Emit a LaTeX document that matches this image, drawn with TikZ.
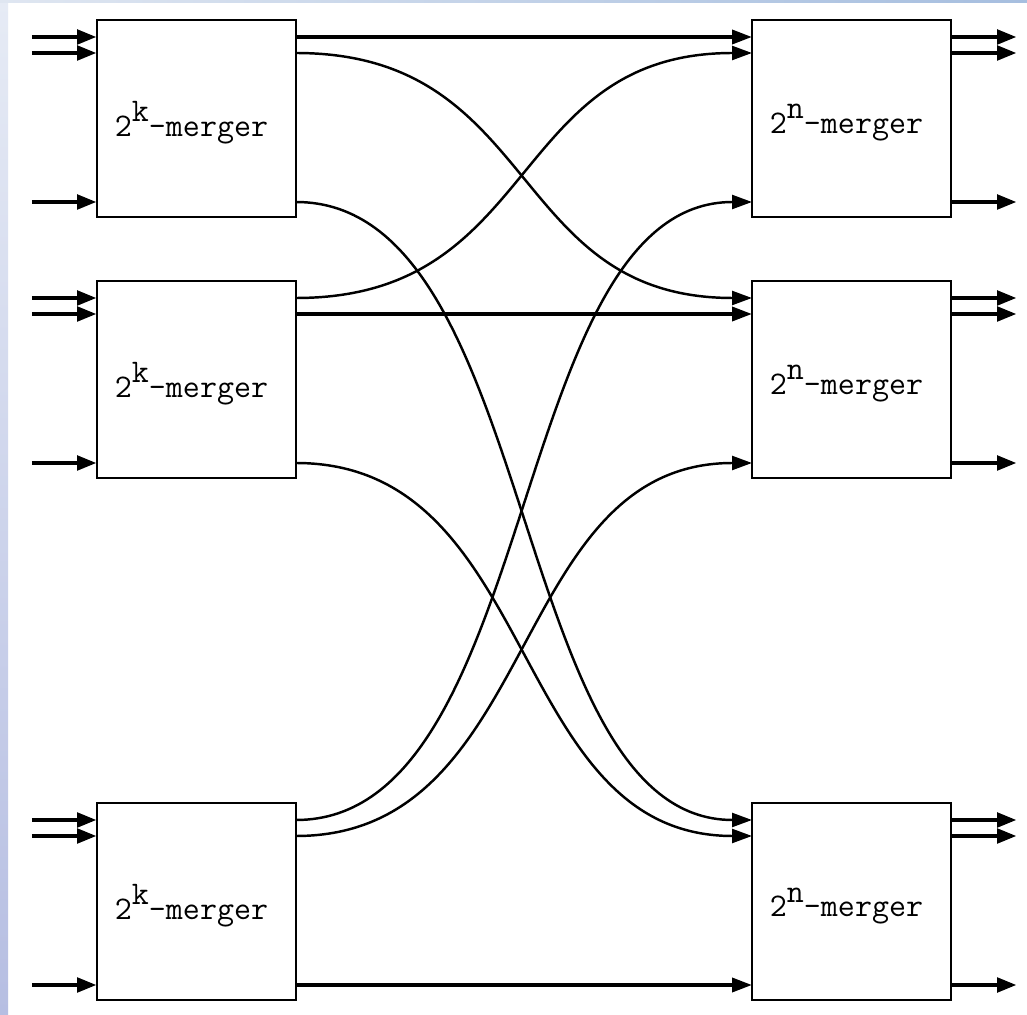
\documentclass[tikz,border=0pt]{standalone}
\usepackage{fontspec}
\usetikzlibrary{arrows.meta,positioning,calc}
\definecolor{slidetop}{HTML}{E6EBF5}
\definecolor{slidebot}{HTML}{B6BEE2}
\definecolor{barleft}{HTML}{DFE6F1}
\definecolor{barright}{HTML}{A6BEDF}
\newcommand{\mergerlabel}[1]{\raisebox{-.09cm}[\height][\depth]{2\raisebox{.45em}{#1}-merger}\hspace*{.2cm}}

\begin{document}
\begin{tikzpicture}[
    merger/.style={rectangle,draw,line width=1.2pt,minimum width=3.98cm,minimum height=3.94cm,
        inner sep=0pt,outer sep=0pt,font=\fontsize{18.8}{22}\selectfont\ttfamily},
    >={Triangle[length=0.4cm,width=0.28cm]},
    wire/.style={line width=1.4pt},
    bus/.style={line width=2.1pt},
    io/.style={line width=2.8pt}]
    % page with the slide border
    \fill[white](0,0) rectangle (20.54,-20.3);
    \shade[top color=slidetop,bottom color=slidebot](0,0) rectangle (0.16,-20.3);
    \shade[left color=barleft,right color=barright](0,0) rectangle (20.54,-0.06);
    \useasboundingbox(0,0) rectangle (20.54,-20.3);

    \node[merger](l1) at (3.93,-2.37){\mergerlabel{k}};
    \node[merger](l2)[below=1.28cm of l1]{\mergerlabel{k}};
    \node[merger](l3)[below=6.5cm of l2]{\mergerlabel{k}};
    \node[merger](r1)[right=9.12cm of l1]{\mergerlabel{n}};
    \node[merger](r2)[right=9.12cm of l2]{\mergerlabel{n}};
    \node[merger](r3)[right=9.12cm of l3]{\mergerlabel{n}};

    % three ports on each side of every box
    \foreach \m in {l1,l2,l3,r1,r2,r3}{
        \foreach \p/\d in {a/0.34,b/0.66,c/3.64}{
            \coordinate(\m-i\p) at ($(\m.north west)+(0,-\d)$);
            \coordinate(\m-o\p) at ($(\m.north east)+(0,-\d)$);
            \coordinate(\m-s\p) at ($(\m-i\p)+(-1.3,0)$);
            \coordinate(\m-e\p) at ($(\m-o\p)+(1.32,0)$);
        }
    }
    \foreach \m in {l1,l2,l3}
        \foreach \p in {a,b,c}
            \draw[io,->](\m-s\p) -- (\m-i\p);
    \foreach \m in {r1,r2,r3}
        \foreach \p in {a,b,c}
            \draw[io,->](\m-o\p) -- (\m-e\p);

    \draw[bus,->](l1-oa) -- (r1-ia);
    \draw[bus,->](l2-ob) -- (r2-ib);
    \draw[bus,->](l3-oc) -- (r3-ic);

    \foreach \a/\b in {l1-ob/r2-ia,l1-oc/r3-ia,l2-oa/r1-ib,l2-oc/r3-ib,l3-oa/r1-ic,l3-ob/r2-ic}
        \draw[wire,->](\a) .. controls +(4.9,0) and +(-4.9,0) .. (\b);
\end{tikzpicture}
\end{document}
